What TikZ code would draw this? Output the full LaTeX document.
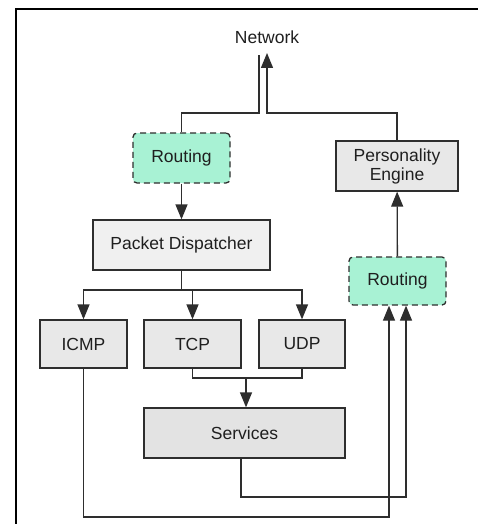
\documentclass[tikz,border=0pt]{standalone}
\usepackage{fontspec}
\setmainfont{Liberation Sans}
\usetikzlibrary{arrows.meta,positioning}
\definecolor{routegreen}{HTML}{A8F2D4}
\definecolor{lightbox}{HTML}{F0F0F0}
\definecolor{midbox}{HTML}{E8E8E8}
\definecolor{darkbox}{HTML}{E3E3E3}
\definecolor{linegray}{HTML}{2E2E2E}

\begin{document}
\begin{tikzpicture}[x=1pt,y=-1pt,
	box/.style={draw=linegray,line width=1.3pt,fill=lightbox,minimum height=50pt,inner sep=0pt,
		align=center,text=black!88,font=\fontsize{17.5}{19}\selectfont},
	routebox/.style={box,fill=routegreen,dash pattern=on 6pt off 4pt,rounded corners=4pt},
	wire/.style={draw=linegray,line width=1.3pt},
	arr/.style={wire,-{Triangle[length=15pt,width=12pt]}}]
	\useasboundingbox (0,0) rectangle (478,524);
	\draw[line width=1.5pt] (16,524) -- (16,9) -- (478,9);

\node[text=black!88,font=\fontsize{17.5}{19}\selectfont] (net) at (267,37) {Network};
\node[routebox,minimum width=97pt] (route1) at (181.5,158) {Routing};
\node[box,minimum width=177pt] (disp) at (181.5,245) {Packet Dispatcher};
\node[box,fill=midbox,minimum width=122pt] (pers) at (397,166) {Personality\\Engine};
\node[routebox,minimum width=97pt,minimum height=48pt] (route2) at (397.5,281) {Routing};
\node[box,fill=midbox,minimum width=87pt,minimum height=48pt] (icmp) at (83.5,344) {ICMP};
\node[box,fill=midbox,minimum width=97pt,minimum height=48pt] (tcp) at (192.5,344) {TCP};
\node[box,fill=midbox,minimum width=86pt,minimum height=48pt] (udp) at (302,344) {UDP};
\node[box,fill=darkbox,minimum width=201pt] (serv) at (244.5,433) {Services};

\coordinate (netL) at (259,55);
\coordinate (netR) at (267,53);
\coordinate (joinL) at (259,113);
\coordinate (joinR) at (267,113);
\coordinate (split) at (181.5,290);
\coordinate (merge) at (246,378);
\coordinate (servBack) at (406,497);
\coordinate (icmpBack) at (389,517);

\draw[wire] (route1.north) |- (joinL) -- (netL);
\draw[arr] (pers.north) |- (joinR) -- (netR);
\draw[arr] (route1) -- (disp);
\draw[wire] (disp.south) -- (split);
\draw[arr] (split) -| (icmp.north);
\draw[arr] (split) -| (udp.north);
\draw[arr] (tcp.north |- split) -- (tcp.north);
\draw[wire] (tcp.south) |- (merge) -| (udp.south);
\draw[arr] (merge) -- (merge |- serv.north);
\draw[arr] ([xshift=-3.5pt]serv.south) |- (servBack) -- (servBack |- route2.south);
\draw[arr] (icmp.south) |- (icmpBack) -- (icmpBack |- route2.south);
\draw[arr] (route2) -- (pers);

\end{tikzpicture}
\end{document}
